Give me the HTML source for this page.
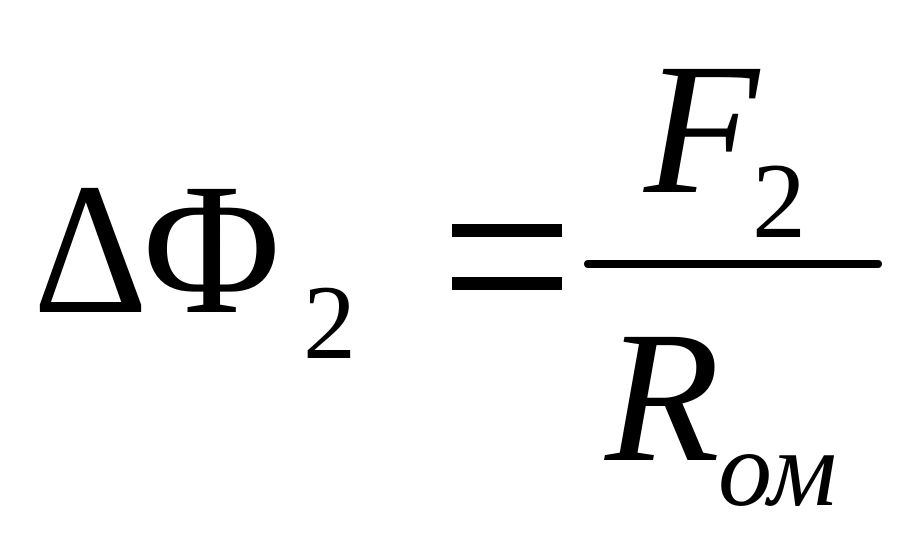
<!DOCTYPE html>
<html><head><meta charset="utf-8"><style>
html,body{margin:0;padding:0;background:#fff;width:918px;height:544px;overflow:hidden}
svg{display:block}
text{font-family:"Liberation Serif",serif;fill:#000}
</style></head><body>
<svg width="918" height="544" viewBox="0 0 918 544">
<text x="0" y="312" font-size="188" transform="translate(33,0) scale(0.95,1)">Δ</text>
<text x="143" y="312" font-size="188">Φ</text>
<text x="303" y="358" font-size="106">2</text>
<rect x="452" y="224" width="110" height="13" fill="#000"/>
<rect x="452" y="277" width="110" height="13" fill="#000"/>
<line x1="588" y1="264" x2="878" y2="264" stroke="#000" stroke-width="8" stroke-linecap="round"/>
<text x="644" y="192" font-size="188" font-style="italic">F</text>
<text x="752" y="237" font-size="108">2</text>
<text x="605" y="460" font-size="188" font-style="italic">R</text>
<text x="718" y="505" font-size="108" font-style="italic">ом</text>
</svg>
</body></html>
